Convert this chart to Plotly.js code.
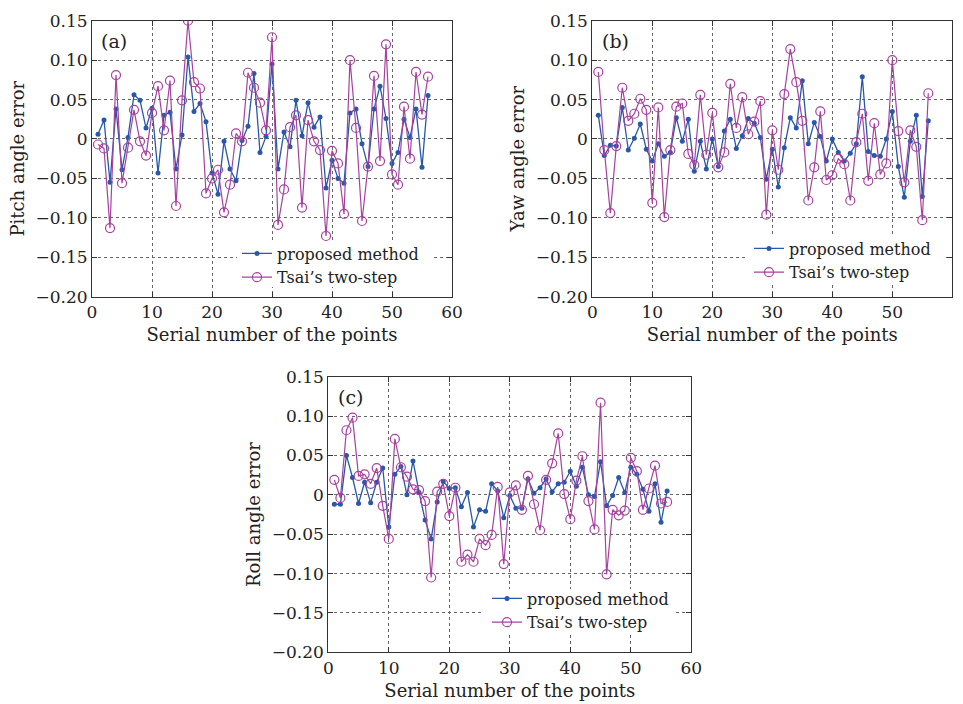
<!DOCTYPE html>
<html><head><meta charset="utf-8">
<script src="https://cdn.plot.ly/plotly-3.0.1.min.js"></script>
<style>html,body{margin:0;padding:0;background:#fff}#chart{width:963px;height:704px}</style>
</head><body><div id="chart"></div><script>
const serial = [1,2,3,4,5,6,7,8,9,10,11,12,13,14,15,16,17,18,19,20,21,22,23,24,25,26,27,28,29,30,31,32,33,34,35,36,37,38,39,40,41,42,43,44,45,46,47,48,49,50,51,52,53,54,55,56];

const pitchProposed = [0.006,0.024,-0.055,0.038,-0.039,0.002,0.056,0.049,0.014,0.039,-0.043,0.030,0.034,-0.038,0.005,0.104,0.035,0.045,0.022,-0.043,-0.070,-0.003,-0.038,-0.053,-0.002,0.016,0.083,-0.017,0.003,0.095,-0.038,0.009,-0.010,0.049,0.004,0.046,0.015,0.028,-0.062,-0.027,-0.050,-0.056,0.033,0.038,-0.006,-0.035,0.038,0.067,0.026,-0.031,-0.017,0.025,0.002,0.038,-0.036,0.055];
const pitchTsai = [-0.007,-0.012,-0.113,0.081,-0.056,-0.011,0.037,-0.003,-0.021,0.033,0.067,0.011,0.074,-0.085,0.049,0.150,0.072,0.064,-0.069,-0.050,-0.039,-0.093,-0.058,0.007,-0.003,0.084,0.065,0.046,0.011,0.129,-0.109,-0.064,0.015,0.030,-0.087,0.024,-0.003,-0.014,-0.123,-0.015,-0.031,-0.095,0.100,0.014,-0.104,-0.035,0.080,-0.028,0.120,-0.045,-0.058,0.041,-0.025,0.085,0.031,0.079];

const yawProposed = [0.030,-0.021,-0.008,-0.009,0.040,-0.014,0.001,0.019,-0.013,-0.028,-0.006,-0.022,-0.017,0.027,-0.003,0.025,-0.041,-0.003,-0.038,0.000,-0.035,0.010,0.025,-0.012,0.004,0.026,0.020,0.002,-0.051,-0.013,-0.061,-0.011,0.027,0.014,0.074,-0.006,0.021,0.003,-0.028,0.000,-0.017,-0.028,-0.018,-0.006,0.079,-0.016,-0.021,-0.022,0.000,0.035,-0.035,-0.074,-0.003,0.030,-0.073,0.023];
const yawTsai = [0.085,-0.014,-0.094,-0.009,0.065,0.023,0.032,0.051,0.037,-0.081,0.040,-0.099,-0.014,0.041,0.045,-0.019,-0.033,0.056,-0.020,0.033,-0.036,-0.017,0.070,0.014,0.053,0.006,0.022,0.048,-0.096,0.011,-0.039,0.057,0.114,0.072,0.023,-0.078,-0.036,0.035,-0.052,-0.046,-0.025,-0.032,-0.078,-0.004,0.032,-0.053,0.020,-0.045,-0.031,0.100,0.010,-0.055,0.011,-0.010,-0.103,0.058];

const rollProposed = [-0.012,-0.012,0.050,0.022,-0.011,0.016,-0.010,0.016,0.034,-0.041,0.026,0.036,0.000,0.043,0.003,-0.032,-0.056,-0.009,0.017,0.008,0.009,-0.015,0.003,-0.041,-0.019,-0.021,0.014,0.005,-0.029,-0.001,-0.017,-0.017,0.020,0.002,0.009,0.020,0.004,0.014,0.016,0.030,0.011,0.035,0.000,-0.002,0.042,-0.014,-0.001,0.022,0.003,0.035,0.026,0.007,-0.021,0.014,-0.035,0.005];
const rollTsai = [0.019,-0.004,0.082,0.098,0.024,0.026,0.014,0.034,-0.014,-0.056,0.071,0.035,0.023,0.007,0.006,-0.008,-0.105,0.004,0.014,-0.027,0.009,-0.085,-0.076,-0.085,-0.056,-0.064,-0.051,0.010,-0.088,0.003,0.012,-0.019,0.024,-0.012,-0.045,0.019,0.040,0.078,0.001,-0.031,0.018,0.049,-0.008,-0.044,0.117,-0.101,-0.019,-0.026,-0.020,0.047,0.030,-0.019,0.008,0.037,-0.011,-0.009];

const yTickVals = [-0.20,-0.15,-0.10,-0.05,0,0.05,0.10,0.15];
const yTickText = ['\u22120.20','\u22120.15','\u22120.10','\u22120.05','0','0.05','0.10','0.15'];
const xTickVals = [0,10,20,30,40,50,60];
const seriesNames = ['proposed method', 'Tsai\u2019s two-step'];
const yTitles = ['Pitch angle error','Yaw angle error','Roll angle error'];
const xTitle = 'Serial number of the points';
const panelLabels = ['(a)','(b)','(c)'];

const FONT = 'DejaVu Serif, Liberation Serif, serif';
const BLUE = '#2858a8';
const MAG = '#a8409f';
const W = 963, H = 704;
const X_RANGE = [0, 60];
const Y_RANGE = [-0.20, 0.15];

const panels = [
  {prop: pitchProposed, tsai: pitchTsai, x0: 92, x1: 452, y0: 20.7, y1: 296.7, leg: [237, 236.5], bg: [0.403, 0.947, 0.035, 0.198]},
  {prop: yawProposed, tsai: yawTsai, x0: 592.3, x1: 952.3, y0: 20.7, y1: 296.7, leg: [749, 231.5], bg: [0.424, 0.974, 0.050, 0.216]},
  {prop: rollProposed, tsai: rollTsai, x0: 328.3, x1: 691.3, y0: 376.7, y1: 652.3, leg: [487, 581.5], bg: [0.429, 0.950, 0.070, 0.230]}
];

const fx = f => X_RANGE[0] + f * (X_RANGE[1] - X_RANGE[0]);
const fy = f => Y_RANGE[0] + f * (Y_RANGE[1] - Y_RANGE[0]);

const traces = [];
const layout = {
  width: W, height: H,
  margin: {l: 0, r: 0, t: 0, b: 0},
  paper_bgcolor: '#fff', plot_bgcolor: '#fff',
  font: {family: FONT, color: '#222', size: 17},
  annotations: [], shapes: []
};

panels.forEach((p, i) => {
  const sfx = i === 0 ? '' : String(i + 1);
  const legName = 'legend' + sfx;
  traces.push({
    x: serial, y: p.prop, name: seriesNames[0], type: 'scatter', mode: 'lines+markers',
    xaxis: 'x' + sfx, yaxis: 'y' + sfx, legend: legName,
    line: {color: BLUE, width: 1.3},
    marker: {color: BLUE, size: 5, symbol: 'circle'}
  });
  traces.push({
    x: serial, y: p.tsai, name: seriesNames[1], type: 'scatter', mode: 'lines+markers',
    xaxis: 'x' + sfx, yaxis: 'y' + sfx, legend: legName,
    line: {color: MAG, width: 1.2},
    marker: {color: MAG, size: 9, symbol: 'circle-open', line: {width: 1.2, color: MAG}}
  });
  const common = {
    showline: true, linecolor: '#333', linewidth: 1, mirror: 'ticks',
    ticks: 'inside', ticklen: 5, tickcolor: '#333',
    showgrid: true, gridcolor: '#666', gridwidth: 1, griddash: '3px,3px',
    zeroline: false, tickfont: {family: FONT, size: 17, color: '#222'}
  };
  layout['xaxis' + sfx] = Object.assign({}, common, {
    domain: [p.x0 / W, p.x1 / W], anchor: 'y' + sfx,
    range: X_RANGE, tickvals: xTickVals,
    title: {text: xTitle, font: {family: FONT, size: 18, color: '#222'}, standoff: 7}
  });
  layout['yaxis' + sfx] = Object.assign({}, common, {
    domain: [1 - p.y1 / H, 1 - p.y0 / H], anchor: 'x' + sfx,
    range: Y_RANGE, tickvals: yTickVals, ticktext: yTickText,
    title: {text: yTitles[i], font: {family: FONT, size: 18, color: '#222'}, standoff: 6}
  });
  layout[legName] = {
    x: p.leg[0] / W, y: 1 - p.leg[1] / H, xanchor: 'left', yanchor: 'top',
    bgcolor: 'rgba(255,255,255,0)', borderwidth: 0,
    font: {family: FONT, size: 16, color: '#222'},
    tracegroupgap: 0, itemwidth: 30
  };
  layout.shapes.push({
    type: 'rect', layer: 'between',
    xref: 'x' + sfx, yref: 'y' + sfx,
    x0: fx(p.bg[0]), x1: fx(p.bg[1]), y0: fy(p.bg[2]), y1: fy(p.bg[3]),
    fillcolor: '#fff', line: {width: 0}
  });
  layout.annotations.push({
    text: panelLabels[i], xref: 'x' + sfx + ' domain', yref: 'y' + sfx + ' domain',
    x: 0.02, y: 0.975, xanchor: 'left', yanchor: 'top', showarrow: false,
    font: {family: FONT, size: 19, color: '#222'}
  });
});

Plotly.newPlot('chart', traces, layout, {displayModeBar: false, staticPlot: true});
</script></body></html>
